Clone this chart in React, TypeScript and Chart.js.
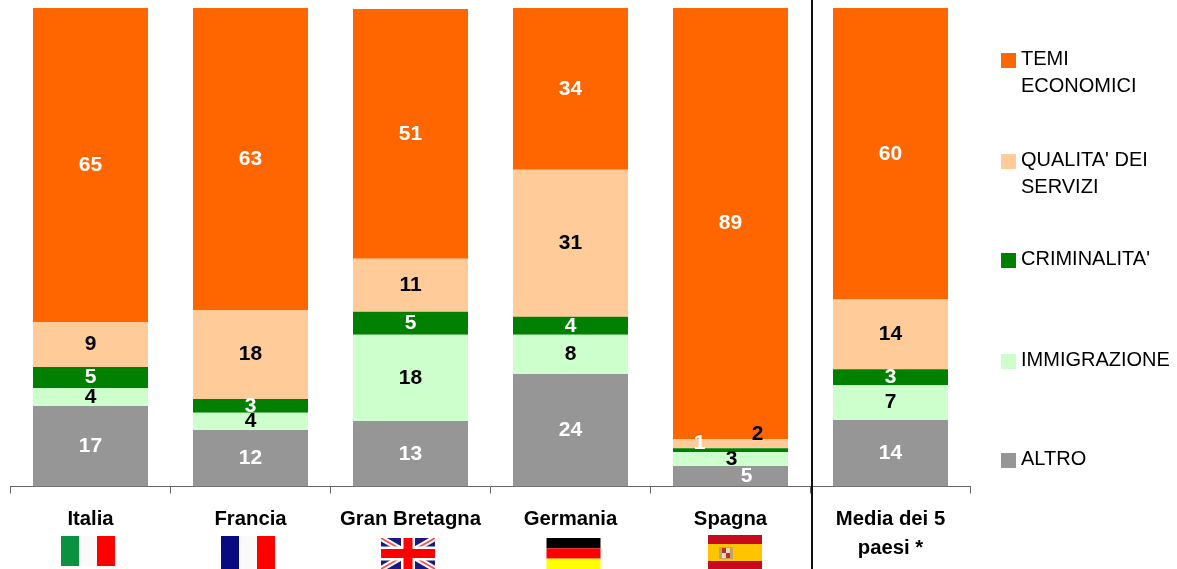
import React, { useEffect, useRef } from "react";
import { Chart, registerables } from "chart.js";

Chart.register(...registerables);

const categories: (string | string[])[] = ["Italia", "Francia", "Gran Bretagna", "Germania", "Spagna", ["Media dei 5", "paesi *"]];

// Bar heights (share of the column, %)
const altro = [16.8, 11.8, 13.7, 23.5, 4.3, 13.9];
const immigrazione = [3.8, 3.6, 18.0, 8.2, 2.9, 7.3];
const criminalita = [4.4, 2.9, 4.8, 3.8, 0.8, 3.3];
const qualita = [9.4, 18.6, 11.1, 30.7, 1.9, 14.6];
const temi = [65.6, 63.1, 52.2, 33.8, 90.1, 60.9];

// Printed values
const altroLabels = [17, 12, 13, 24, 5, 14];
const immigrazioneLabels = [4, 4, 18, 8, 3, 7];
const criminalitaLabels = [5, 3, 5, 4, 1, 3];
const qualitaLabels = [9, 18, 11, 31, 2, 14];
const temiLabels = [65, 63, 51, 34, 89, 60];

const flagCodes = ["it", "fr", "uk", "de", "es"];

const FONT = '"Liberation Sans", Arial, sans-serif';
const series = [
  { name: ["ALTRO"], values: altro, labels: altroLabels, color: "#969696", label: "#ffffff", legendY: 460.5 },
  { name: ["IMMIGRAZIONE"], values: immigrazione, labels: immigrazioneLabels, color: "#CCFFCC", label: "#000000", legendY: 361.5 },
  { name: ["CRIMINALITA'"], values: criminalita, labels: criminalitaLabels, color: "#008000", label: "#ffffff", legendY: 260.5 },
  { name: ["QUALITA' DEI", "SERVIZI"], values: qualita, labels: qualitaLabels, color: "#FFCC99", label: "#000000", legendY: 161.5 },
  { name: ["TEMI", "ECONOMICI"], values: temi, labels: temiLabels, color: "#FF6600", label: "#ffffff", legendY: 60.5 },
];

// Hand placed label offsets for the crowded Spagna column (dataset index -> dx, dy)
const spagnaOffsets: Record<number, [number, number]> = {
  0: [16, 0],
  1: [1, 0],
  2: [-31, -6.5],
  3: [27, -9],
};

const flagShift: Record<string, number> = { it: -2.5, fr: -2.5, uk: -2.5, de: 3, es: 4.5 };

function drawFlag(ctx: CanvasRenderingContext2D, code: string, tickX: number) {
  const w = 54;
  const cx = tickX + flagShift[code];
  const x = cx - w / 2;
  ctx.save();
  if (code !== "es") (ctx as any).filter = "blur(0.7px)";
  if (code === "it" || code === "fr") {
    const y = 536;
    const h = code === "it" ? 30 : 33;
    const cols = code === "it" ? ["#0A9240", "#FAFAFA", "#FF0000"] : ["#0A0A80", "#FAFAFA", "#FF0000"];
    cols.forEach((c, i) => {
      ctx.fillStyle = c;
      ctx.fillRect(x + (i * w) / 3, y, w / 3, h);
    });
  } else if (code === "de") {
    const y = 538;
    const h = 31;
    ["#000000", "#FF0000", "#FFFF00"].forEach((c, i) => {
      ctx.fillStyle = c;
      ctx.fillRect(x, y + (i * h) / 3, w, h / 3);
    });
  } else if (code === "es") {
    const y = 535;
    ctx.fillStyle = "#C60B1E";
    ctx.fillRect(x, y, w, 34);
    ctx.fillStyle = "#FFC400";
    ctx.fillRect(x, y + 9, w, 17);
    ctx.fillStyle = "#C8A060";
    ctx.fillRect(x + 11, y + 12, 14, 12);
    ctx.fillStyle = "#B5322A";
    ctx.fillRect(x + 14, y + 13, 4, 5);
    ctx.fillRect(x + 18, y + 18, 4, 5);
    ctx.fillStyle = "#E8D8C0";
    ctx.fillRect(x + 18, y + 13, 4, 5);
    ctx.fillRect(x + 14, y + 18, 4, 5);
  } else {
    const y = 538;
    const h = 31;
    ctx.beginPath();
    ctx.rect(x, y, w, h);
    ctx.clip();
    ctx.fillStyle = "#1A1A80";
    ctx.fillRect(x, y, w, h);
    ctx.strokeStyle = "#FFFFFF";
    ctx.lineWidth = 6;
    ctx.beginPath();
    ctx.moveTo(x, y);
    ctx.lineTo(x + w, y + h);
    ctx.moveTo(x + w, y);
    ctx.lineTo(x, y + h);
    ctx.stroke();
    ctx.strokeStyle = "#FF5050";
    ctx.lineWidth = 2;
    ctx.stroke();
    ctx.fillStyle = "#FFFFFF";
    ctx.fillRect(cx - 7, y, 14, h);
    ctx.fillRect(x, y + h / 2 - 7, w, 14);
    ctx.fillStyle = "#FF0000";
    ctx.fillRect(cx - 4.5, y, 9, h);
    ctx.fillRect(x, y + h / 2 - 4.5, w, 9);
  }
  ctx.restore();
}

const decorations = {
  id: "decorations",
  afterDatasetsDraw(chart: any) {
    const { ctx } = chart;
    ctx.save();
    // value labels
    ctx.textAlign = "center";
    ctx.textBaseline = "middle";
    ctx.font = `bold 21px ${FONT}`;
    chart.data.datasets.forEach((_ds: any, di: number) => {
      const meta = chart.getDatasetMeta(di);
      meta.data.forEach((el: any, i: number) => {
        const off = i === 4 && spagnaOffsets[di] ? spagnaOffsets[di] : [0, 0];
        const c = el.getCenterPoint();
        ctx.fillStyle = series[di].label;
        ctx.fillText(String(series[di].labels[i]), c.x + off[0], c.y + off[1]);
      });
    });
    // separator before the average
    const xScale = chart.scales.x;
    const sepX = Math.round((xScale.getPixelForValue(4) + xScale.getPixelForValue(5)) / 2 + 0.5);
    ctx.fillStyle = "#111111";
    ctx.fillRect(sepX, 0, 2, 569);
    // flags
    flagCodes.forEach((code, i) => drawFlag(ctx, code, xScale.getPixelForValue(i)));
    // legend
    ctx.textAlign = "left";
    ctx.font = `20px ${FONT}`;
    series.forEach((s) => {
      ctx.fillStyle = s.color;
      ctx.fillRect(1001, s.legendY - 7.5, 15, 15);
      ctx.fillStyle = "#000000";
      s.name.forEach((line, li) => ctx.fillText(line, 1021, s.legendY - 1 + li * 27));
    });
    ctx.restore();
  },
};

export default function App() {
  const ref = useRef<HTMLCanvasElement>(null);
  useEffect(() => {
    const chart = new Chart(ref.current!, {
      type: "bar",
      data: {
        labels: categories as any,
        datasets: series.map((s) => ({
          label: s.name.join(" "),
          data: s.values,
          backgroundColor: s.color,
          borderWidth: 0,
          barPercentage: 115 / 160,
          categoryPercentage: 1,
        })),
      },
      options: {
        responsive: false,
        animation: false,
        layout: { padding: { left: 10.5, right: 206.5, top: 8, bottom: 0 } },
        plugins: { legend: { display: false }, tooltip: { enabled: false } },
        scales: {
          y: { stacked: true, min: 0, max: 100, display: false },
          x: {
            stacked: true,
            offset: true,
            afterFit(scale: any) {
              scale.height = 82.5;
            },
            grid: { drawOnChartArea: false, drawTicks: true, tickLength: 7, color: "#666666", offset: true },
            border: { color: "#666666", width: 1 },
            ticks: {
              color: "#000000",
              padding: 11,
              maxRotation: 0,
              autoSkip: false,
              font: { family: FONT, size: 20.3, weight: "bold", lineHeight: 1.43 },
            },
          },
        },
      },
      plugins: [decorations],
    } as any);
    return () => chart.destroy();
  }, []);
  return (
    <div style={{ position: "absolute", left: 0, top: 0, width: 1177, height: 569, background: "#fff" }}>
      <canvas ref={ref} width={1177} height={569} style={{ display: "block" }} />
    </div>
  );
}
